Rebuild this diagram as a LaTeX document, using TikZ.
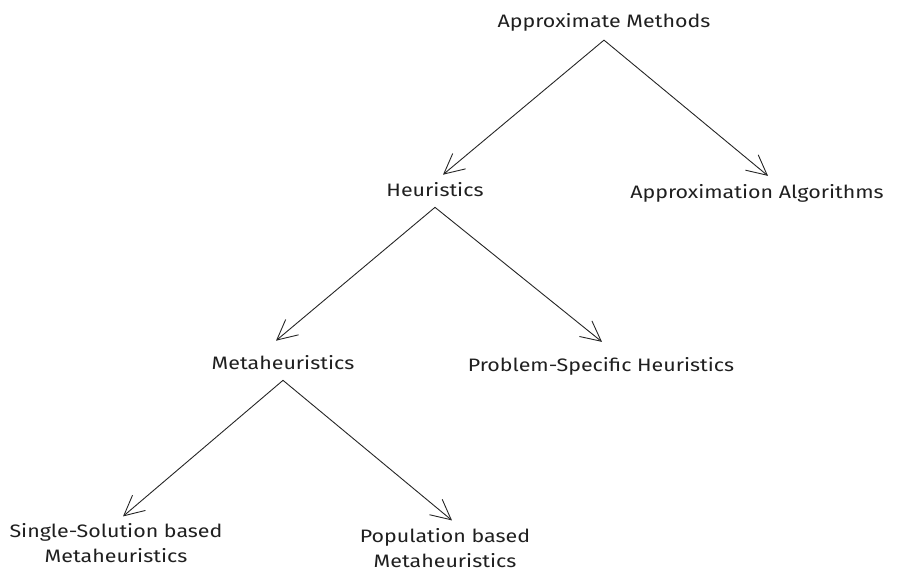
\documentclass[tikz,border=0pt]{standalone}
\usepackage{fontspec}
\setmainfont[FakeStretch=1.19]{Fira Sans}
\usetikzlibrary{arrows.meta}
\begin{document}
\begin{tikzpicture}[x=1pt,y=-1pt,
  label/.style={font=\fontsize{18}{24.5}\selectfont, inner sep=0pt, align=center, text=black!88},
  link/.style={draw=black!85, line width=0.9pt, line cap=round,
    -{Straight Barb[length=20pt,width=20pt,line width=0.9pt]}}]
  \useasboundingbox (0,0) rectangle (898,574);
  % tree labels
  \node[label] (am)   at (604,22)  {Approximate Methods};
  \node[label] (heu)  at (435,190) {Heuristics};
  \node[label] (apx)  at (757,193) {Approximation Algorithms};
  \node[label] (meta) at (283,363) {Metaheuristics};
  \node[label] (psh)  at (601,366) {Problem-Specific Heuristics};
  \node[label] (ssb)  at (116,543) {Single-Solution based\\Metaheuristics};
  \node[label] (pop)  at (445,548) {Population based\\Metaheuristics};
  % branches
  \draw[link] ([yshift=-9pt]am.south) -- ([xshift=8pt,yshift=8pt]heu.north);
  \draw[link] ([yshift=-9pt]am.south) -- ([xshift=11pt,yshift=8pt]apx.north);
  \draw[link] ([yshift=-10pt]heu.south) -- ([xshift=-7pt,yshift=15pt]meta.north);
  \draw[link] ([yshift=-10pt]heu.south) -- ([xshift=1pt,yshift=15pt]psh.north);
  \draw[link] ([yshift=-10pt]meta.south) -- ([xshift=7pt,yshift=7pt]ssb.north);
  \draw[link] ([yshift=-10pt]meta.south) -- ([xshift=7pt,yshift=8pt]pop.north);
\end{tikzpicture}
\end{document}
